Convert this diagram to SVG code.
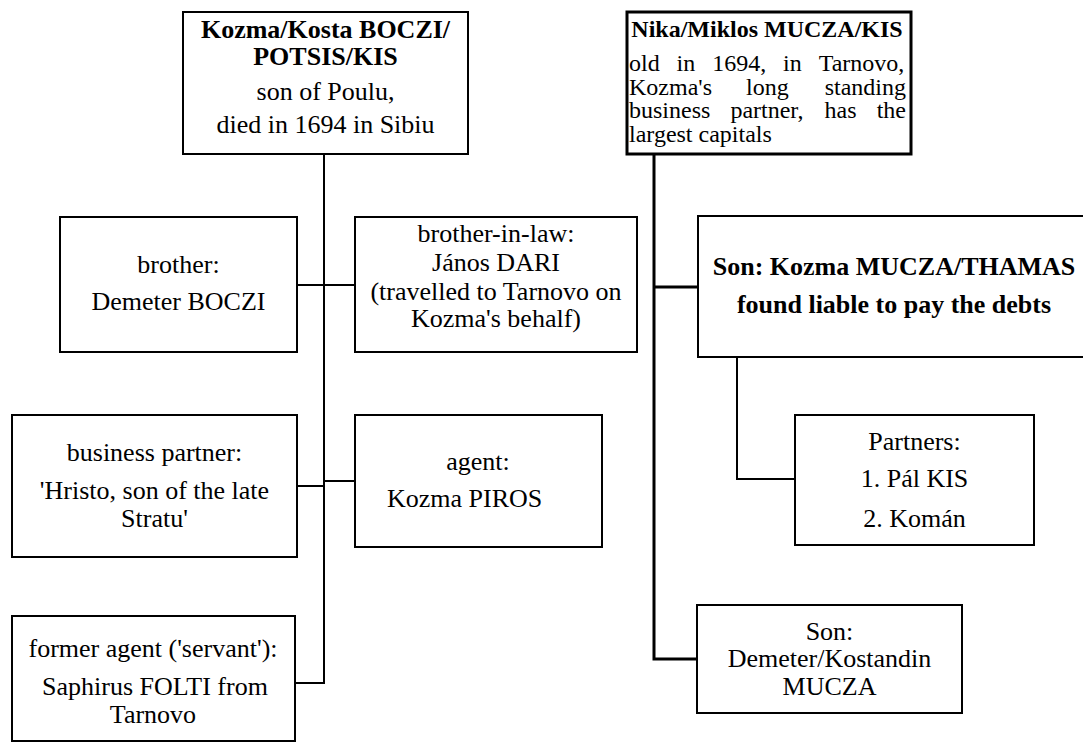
<svg xmlns="http://www.w3.org/2000/svg" width="1083" height="744" viewBox="0 0 1083 744">
<style>
text{font-family:"Liberation Serif","Times New Roman",serif;font-size:26px;fill:#000}
.b{font-weight:bold}
.c{text-anchor:middle}
.s{font-size:24px}
.box{fill:#fff;stroke:#000;stroke-width:2}
.thick{stroke-width:3}
.ln{fill:none;stroke:#000;stroke-width:2}
.tk{fill:none;stroke:#000;stroke-width:3}
</style>
<rect width="1083" height="744" fill="#fff"/>
<g id="connectors">
<path class="ln" d="M324,154V683H295M297,285H355M297,486H324M324,481H355"/>
<path class="tk" d="M654,154V659H697M654,287H698"/>
<path class="ln" d="M737,357V479H795"/>
</g>
<g id="kozma">
<rect class="box" x="183" y="12" width="285" height="142"/>
<text class="c b" x="325.5" y="38">Kozma/Kosta BOCZI/</text>
<text class="c b" x="325.5" y="65">POTSIS/KIS</text>
<text class="c" x="325.5" y="100">son of Poulu,</text>
<text class="c" x="325.5" y="133">died in 1694 in Sibiu</text>
</g>
<g id="brother">
<rect class="box" x="60" y="217" width="237" height="135"/>
<text class="c" x="178.5" y="273">brother:</text>
<text class="c" x="178.5" y="310">Demeter BOCZI</text>
</g>
<g id="brother-in-law">
<rect class="box" x="355" y="217" width="282" height="135"/>
<text class="c" x="496" y="242">brother-in-law:</text>
<text class="c" x="496" y="271">János DARI</text>
<text class="c" x="496" y="300">(travelled to Tarnovo on<tspan x="496" dy="27">Kozma's behalf)</tspan></text>
</g>
<g id="business-partner">
<rect class="box" x="12" y="415" width="285" height="142"/>
<text class="c" x="154.5" y="461">business partner:</text>
<text class="c" x="154.5" y="499">'Hristo, son of the late<tspan x="154.5" dy="28">Stratu'</tspan></text>
</g>
<g id="agent">
<rect class="box" x="355" y="415" width="247" height="132"/>
<text class="c" x="478" y="470">agent:</text>
<text x="387" y="507">Kozma PIROS</text>
</g>
<g id="former-agent">
<rect class="box" x="12" y="616" width="283" height="125"/>
<text class="c" x="153" y="657">former agent ('servant'):</text>
<text class="c" x="155" y="695">Saphirus FOLTI from<tspan x="153" dy="28">Tarnovo</tspan></text>
</g>
<g id="nika">
<rect class="box thick" x="627" y="12" width="284" height="142"/>
<text class="c b s" x="767" y="37">Nika/Miklos MUCZA/KIS</text>
<text class="s" y="71"><tspan x="629">old</tspan><tspan x="676.6">in</tspan><tspan x="712.2">1694,</tspan><tspan x="783.1">in</tspan><tspan x="818.7">Tarnovo,</tspan><tspan x="629" y="94.7">Kozma's</tspan><tspan x="746">long</tspan><tspan x="824.7">standing</tspan><tspan x="629" y="118.3">business</tspan><tspan x="730.4">partner,</tspan><tspan x="824.5">has</tspan><tspan x="876.7">the</tspan><tspan x="629" y="142">largest capitals</tspan></text>
</g>
<g id="son-kozma">
<rect class="box" x="698" y="216" width="400" height="141"/>
<text class="c b" x="894" y="275">Son: Kozma MUCZA/THAMAS</text>
<text class="c b" x="894" y="313">found liable to pay the debts</text>
</g>
<g id="partners">
<rect class="box" x="795" y="415" width="239" height="130"/>
<text class="c" x="914.5" y="450">Partners:</text>
<text class="c" x="914.5" y="487">1. Pál KIS</text>
<text class="c" x="914.5" y="527">2. Komán</text>
</g>
<g id="son-demeter">
<rect class="box" x="697" y="605" width="265" height="108"/>
<text class="c" x="829.5" y="640">Son:<tspan x="829.5" dy="27">Demeter/Kostandin</tspan><tspan x="829.5" dy="28">MUCZA</tspan></text>
</g>
</svg>
